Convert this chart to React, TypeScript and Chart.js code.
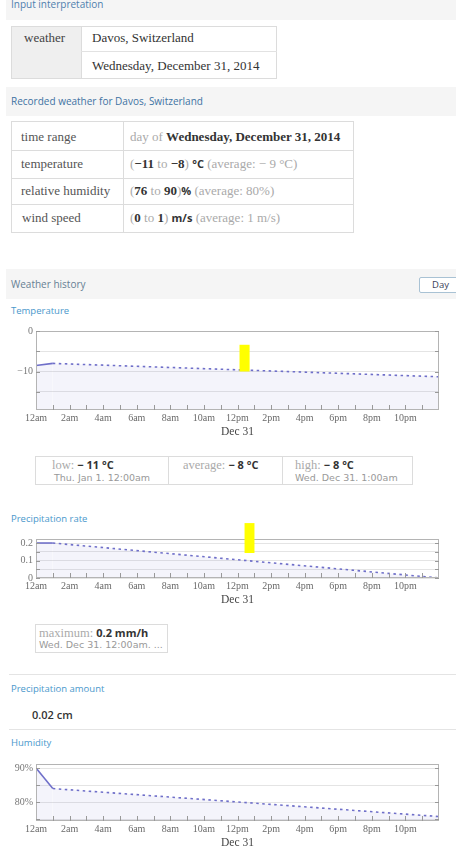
import React, { useEffect, useRef } from 'react';
import { Chart, registerables } from 'chart.js';

Chart.register(...registerables);

// ---------- data ----------
const hourLabels = ['12am', '2am', '4am', '6am', '8am', '10am', '12pm', '2pm', '4pm', '6pm', '8pm', '10pm'];
const dayLabel = 'Dec 31';

const tempHours = [0, 1, 24];
const tempValues = [-8.5, -8, -11.3];
const tempGrid = [-15, -10, -5, 0];
const tempTickLabels: [number, string][] = [[0, '0'], [-10, '\u221210']];
const tempHighlight = [12.12, 12.72, -3.4, -10];

const precipHours = [0, 1, 24];
const precipValues = [0.2, 0.2, 0];
const precipGrid = [0, 0.05, 0.1, 0.15, 0.2];
const precipTickLabels: [number, string][] = [[0, '0'], [0.1, '0.1'], [0.2, '0.2']];
const precipHighlight = [12.42, 13.01, 0.314, 0.143];

const humidHours = [0, 1, 24];
const humidValues = [90, 84, 75.8];
const humidGrid = [75, 80, 85, 90];
const humidTickLabels: [number, string][] = [[80, '80%'], [90, '90%']];

// ---------- styles ----------
const SERIF = '"Liberation Serif", "Times New Roman", serif';
const SANS = '"Open Sans", "Noto Sans", sans-serif';
const SMALL = '"DejaVu Sans", Verdana, sans-serif';
const LINE = '#6f6fc9';

const framePlugin = {
  id: 'frame',
  afterDraw(chart: any, _args: any, opts: any) {
    const { ctx, chartArea: a, scales } = chart;
    const xs = scales.x;
    const ys = scales.y;
    ctx.save();
    ctx.strokeStyle = '#b4b4b4';
    ctx.lineWidth = 1;
    ctx.strokeRect(Math.round(a.left) + 0.5, Math.round(a.top) + 0.5, Math.round(a.width) - 1, Math.round(a.height) - 1);
    ctx.strokeStyle = '#999';
    ctx.beginPath();
    for (let h = 1; h < 24; h++) {
      const px = Math.round(xs.getPixelForValue(h)) + 0.5;
      ctx.moveTo(px, a.bottom);
      ctx.lineTo(px, a.bottom - 5);
    }
    ys.ticks.forEach((t: any) => {
      const py = Math.round(ys.getPixelForValue(t.value)) + 0.5;
      ctx.moveTo(a.right, py);
      ctx.lineTo(a.right - 4, py);
      ctx.moveTo(a.left, py);
      ctx.lineTo(a.left + 4, py);
    });
    ctx.stroke();
    const hl = opts && opts.highlight;
    if (hl) {
      const x0 = xs.getPixelForValue(hl[0]);
      const x1 = xs.getPixelForValue(hl[1]);
      const y0 = ys.getPixelForValue(hl[2]);
      const y1 = ys.getPixelForValue(hl[3]);
      ctx.fillStyle = '#ffff00';
      ctx.fillRect(x0, y0, x1 - x0, y1 - y0);
    }
    ctx.restore();
  },
};

type ChartProps = {
  top: number;
  height: number;
  padTop: number;
  hours: number[];
  values: number[];
  yMin: number;
  yMax: number;
  yGrid: number[];
  yLabels: [number, string][];
  highlight?: number[];
};

function LineChart(p: ChartProps) {
  const ref = useRef<HTMLCanvasElement>(null);
  useEffect(() => {
    const chart = new Chart(ref.current as HTMLCanvasElement, {
      type: 'line',
      data: {
        datasets: [
          {
            data: p.hours.map((h, i) => ({ x: h, y: p.values[i] })),
            borderColor: LINE,
            borderWidth: 1.6,
            backgroundColor: 'rgba(110,110,200,0.08)',
            fill: 'start',
            pointRadius: 0,
            tension: 0,
            segment: {
              borderDash: (c: any) => (c.p0.parsed.x >= 1 ? [2.5, 3.5] : []),
            },
          } as any,
        ],
      },
      options: {
        animation: false,
        responsive: false,
        maintainAspectRatio: false,
        events: [],
        layout: { padding: { top: p.padTop, right: 17, left: 0, bottom: 0 } },
        plugins: {
          legend: { display: false },
          tooltip: { enabled: false },
          frame: { highlight: p.highlight },
        } as any,
        scales: {
          x: {
            type: 'linear',
            min: 0,
            max: 24,
            afterFit: (s: any) => {
              s.height = 30;
            },
            grid: { display: false, drawTicks: false },
            border: { display: false },
            ticks: {
              stepSize: 2,
              autoSkip: false,
              maxRotation: 0,
              padding: 2,
              color: '#6a6a6a',
              font: { family: SERIF, size: 10 },
              callback: (v: any) => {
                const n = Number(v);
                return n < 24 && hourLabels[Math.round(n / 2)] !== undefined ? hourLabels[Math.round(n / 2)] : '';
              },
            },
            title: {
              display: true,
              text: dayLabel,
              color: '#444',
              font: { family: SERIF, size: 11.5 },
              padding: { top: 0, bottom: 1.5 },
            },
          },
          y: {
            type: 'linear',
            min: p.yMin,
            max: p.yMax,
            afterFit: (s: any) => {
              s.width = 36;
            },
            afterBuildTicks: (s: any) => {
              s.ticks = p.yGrid.map((v) => ({ value: v }));
            },
            grid: { color: '#e4e4e4', drawTicks: false },
            border: { display: false },
            ticks: {
              autoSkip: false,
              padding: 3,
              color: '#777',
              font: { family: SERIF, size: 10 },
              callback: (v: any) => {
                const f = p.yLabels.find(([val]) => Math.abs(val - Number(v)) < 1e-6);
                return f ? f[1] : '';
              },
            },
          },
        },
      } as any,
      plugins: [framePlugin],
    });
    return () => chart.destroy();
  }, []);
  return (
    <canvas
      ref={ref}
      width={456}
      height={p.height}
      style={{ position: 'absolute', left: 0, top: p.top, width: 456, height: p.height, display: 'block' }}
    />
  );
}

function T(props: { x: number; y: number; children: React.ReactNode; style?: React.CSSProperties }) {
  return (
    <div
      style={{
        position: 'absolute',
        left: props.x,
        top: props.y,
        transform: 'translateY(-50%)',
        whiteSpace: 'nowrap',
        lineHeight: 1.2,
        ...props.style,
      }}
    >
      {props.children}
    </div>
  );
}

const bandStyle: React.CSSProperties = { position: 'absolute', left: 6, width: 450, background: '#f5f5f5' };
const sectionLabel: React.CSSProperties = { fontFamily: SANS, fontSize: 9.5, color: '#4a98cc' };
const light = { color: '#aaa' };
const dark = { color: '#333', fontWeight: 700 as const };
const unit = { color: '#333', fontWeight: 700 as const, fontFamily: SANS, fontSize: 11 };
const sub: React.CSSProperties = { fontFamily: SMALL, fontSize: 9.5, color: '#999' };

export default function App() {
  const cell: React.CSSProperties = { fontFamily: SERIF, fontSize: 13, color: '#555' };
  return (
    <div style={{ position: 'absolute', left: 0, top: 0, width: 456, height: 847, overflow: 'hidden', background: '#fff' }}>
      {/* Input interpretation */}
      <div style={{ ...bandStyle, top: 0, height: 20, overflow: 'hidden' }}>
        <div style={{ position: 'absolute', left: 5, top: -3, whiteSpace: 'nowrap', fontFamily: SANS, fontSize: 10, color: '#4f7fae', lineHeight: '14px' }}>
          Input interpretation
        </div>
      </div>
      <div style={{ position: 'absolute', left: 11, top: 26, width: 266, height: 53, border: '1px solid #dcdcdc', boxSizing: 'border-box' }}>
        <div style={{ position: 'absolute', left: 0, top: 0, width: 69, height: 51, background: '#efefef', borderRight: '1px solid #dcdcdc' }} />
        <div style={{ position: 'absolute', left: 69, top: 24, width: 196, height: 1, background: '#e2e2e2' }} />
      </div>
      <T x={24} y={38} style={{ ...cell, color: '#444' }}>weather</T>
      <T x={92} y={38} style={{ ...cell, color: '#333' }}>Davos, Switzerland</T>
      <T x={92} y={66} style={{ ...cell, color: '#333' }}>Wednesday, December 31, 2014</T>

      {/* Recorded weather */}
      <div style={{ ...bandStyle, top: 87, height: 29 }} />
      <T x={11} y={101} style={{ fontFamily: SANS, fontSize: 10, color: '#3f73a3' }}>Recorded weather for Davos, Switzerland</T>
      <div style={{ position: 'absolute', left: 11, top: 121, width: 343, height: 112, border: '1px solid #dcdcdc', boxSizing: 'border-box' }}>
        <div style={{ position: 'absolute', left: 111, top: 0, width: 1, height: 110, background: '#dcdcdc' }} />
        <div style={{ position: 'absolute', left: 0, top: 28, width: 341, height: 1, background: '#dcdcdc' }} />
        <div style={{ position: 'absolute', left: 0, top: 56, width: 341, height: 1, background: '#dcdcdc' }} />
        <div style={{ position: 'absolute', left: 0, top: 82, width: 341, height: 1, background: '#dcdcdc' }} />
      </div>
      <T x={21} y={137} style={cell}>time range</T>
      <T x={21} y={164} style={cell}>temperature</T>
      <T x={21} y={191} style={cell}>relative humidity</T>
      <T x={22} y={218} style={cell}>wind speed</T>
      <T x={130} y={137} style={cell}>
        <span style={light}>day of </span>
        <span style={dark}>Wednesday, December 31, 2014</span>
      </T>
      <T x={130} y={164} style={cell}>
        <span style={light}>(</span><span style={dark}>{'\u221211'}</span><span style={light}> to </span>
        <span style={dark}>{'\u22128'}</span><span style={light}>)</span> <span style={unit}>°C</span>
        <span style={light}> (average: {'\u2212'} 9 °C)</span>
      </T>
      <T x={130} y={191} style={cell}>
        <span style={light}>(</span><span style={dark}>76</span><span style={light}> to </span>
        <span style={dark}>90</span><span style={light}>)</span><span style={unit}>%</span>
        <span style={light}> (average: 80%)</span>
      </T>
      <T x={130} y={218} style={cell}>
        <span style={light}>(</span><span style={dark}>0</span><span style={light}> to </span>
        <span style={dark}>1</span><span style={light}>)</span> <span style={unit}>m/s</span>
        <span style={light}> (average: 1 m/s)</span>
      </T>

      {/* Weather history */}
      <div style={{ ...bandStyle, top: 269, height: 30 }} />
      <T x={11} y={284} style={{ fontFamily: SANS, fontSize: 10, color: '#667f94' }}>Weather history</T>
      <div
        style={{
          position: 'absolute', left: 419, top: 277, width: 44, height: 16, background: '#fff',
          border: '1px solid #a9c2d4', borderRadius: 2, boxSizing: 'border-box',
        }}
      />
      <T x={432} y={285} style={{ fontFamily: SANS, fontSize: 9.5, color: '#3a3f5a' }}>Day</T>

      <T x={11} y={311} style={sectionLabel}>Temperature</T>
      <LineChart top={320} height={120} padTop={11} hours={tempHours} values={tempValues}
        yMin={-19.5} yMax={0} yGrid={tempGrid} yLabels={tempTickLabels} highlight={tempHighlight} />

      {/* temperature stats */}
      <div style={{ position: 'absolute', left: 35, top: 456, width: 378, height: 29, border: '1px solid #dcdcdc', boxSizing: 'border-box' }}>
        <div style={{ position: 'absolute', left: 132, top: 0, width: 1, height: 27, background: '#dcdcdc' }} />
        <div style={{ position: 'absolute', left: 246, top: 0, width: 1, height: 27, background: '#dcdcdc' }} />
      </div>
      <T x={52} y={465} style={{ fontFamily: SERIF, fontSize: 12.5, color: '#aaa' }}>
        low: <span style={unit}>{'\u2212'} 11 °C</span>
      </T>
      <T x={54} y={478} style={sub}>Thu. Jan 1. 12:00am</T>
      <T x={183} y={465} style={{ fontFamily: SERIF, fontSize: 12.5, color: '#aaa' }}>
        average: <span style={unit}>{'\u2212'} 8 °C</span>
      </T>
      <T x={295} y={465} style={{ fontFamily: SERIF, fontSize: 12.5, color: '#aaa' }}>
        high: <span style={unit}>{'\u2212'} 8 °C</span>
      </T>
      <T x={295} y={478} style={sub}>Wed. Dec 31. 1:00am</T>

      <T x={11} y={519} style={sectionLabel}>Precipitation rate</T>
      <LineChart top={515} height={93} padTop={24} hours={precipHours} values={precipValues}
        yMin={0} yMax={0.223} yGrid={precipGrid} yLabels={precipTickLabels} highlight={precipHighlight} />

      <div style={{ position: 'absolute', left: 35, top: 624, width: 133, height: 29, border: '1px solid #dcdcdc', boxSizing: 'border-box' }} />
      <T x={39} y={633} style={{ fontFamily: SERIF, fontSize: 12.5, color: '#aaa' }}>
        maximum: <span style={unit}>0.2 mm/h</span>
      </T>
      <T x={39} y={645} style={sub}>Wed. Dec 31. 12:00am. ...</T>

      <div style={{ position: 'absolute', left: 9, top: 674, width: 447, height: 1, background: '#e4e4e4' }} />
      <T x={11} y={689} style={sectionLabel}>Precipitation amount</T>
      <T x={32} y={715} style={{ fontFamily: SANS, fontSize: 11, color: '#333', fontWeight: 600 }}>0.02 cm</T>
      <div style={{ position: 'absolute', left: 9, top: 729, width: 447, height: 1, background: '#e4e4e4' }} />

      <T x={11} y={743} style={sectionLabel}>Humidity</T>
      <LineChart top={755} height={96} padTop={8.3} hours={humidHours} values={humidValues}
        yMin={74.5} yMax={91.2} yGrid={humidGrid} yLabels={humidTickLabels} />
    </div>
  );
}
